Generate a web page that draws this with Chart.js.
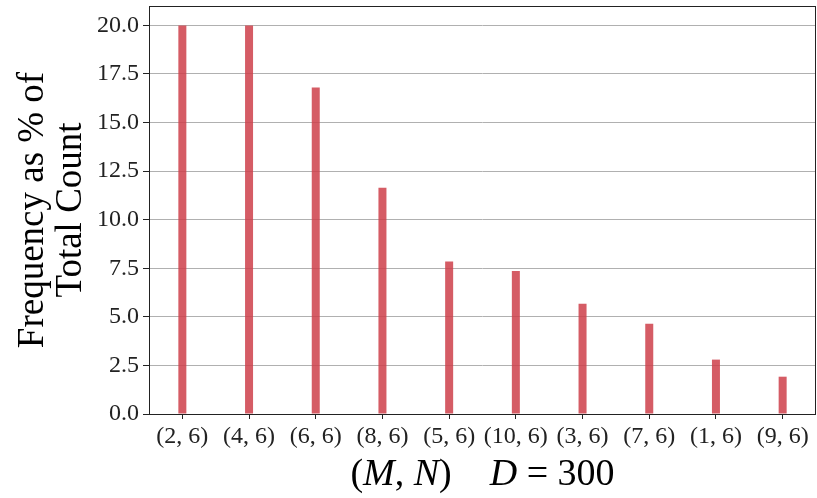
<!DOCTYPE html>
<html>
<head>
<meta charset="utf-8">
<script src="https://cdn.jsdelivr.net/npm/chart.js@4/dist/chart.umd.min.js"></script>
<style>
  html,body{margin:0;padding:0;background:#fff;}
  #wrap{width:817px;height:498px;}
</style>
</head>
<body>
<div id="wrap"><canvas id="freqChart" width="817" height="498"></canvas></div>
<script>
// (M, N) pairs sorted by frequency, D = 300
const pairs = ['(2, 6)','(4, 6)','(6, 6)','(8, 6)','(5, 6)','(10, 6)','(3, 6)','(7, 6)','(1, 6)','(9, 6)'];
const freqPct = [20.0, 20.0, 16.8, 11.65, 7.85, 7.36, 5.67, 4.64, 2.8, 1.92];
const yTicks = [0, 2.5, 5, 7.5, 10, 12.5, 15, 17.5, 20];

const serif = "'Liberation Serif', 'DejaVu Serif', serif";

// black frame round the plot area + mixed italic x title
const framePlugin = {
  id: 'frame',
  afterDraw(c){
    const {ctx, chartArea:a} = c;
    ctx.save();
    ctx.strokeStyle = '#222';
    ctx.lineWidth = 1;
    ctx.strokeRect(a.left+0.5, a.top+0.5, a.right-a.left-1, a.bottom-a.top);
    // x axis title: (M, N)    D = 300
    const parts = [['(',0],['M',1],[', ',0],['N',1],[')',0],['    ',0],['D',1],[' = 300',0]];
    const size = 38;
    const fnt = it => (it ? 'italic ' : '') + size + 'px ' + serif;
    let total = 0;
    parts.forEach(p => { ctx.font = fnt(p[1]); total += ctx.measureText(p[0]).width; });
    let x = (a.left + a.right)/2 - total/2;
    ctx.fillStyle = '#000';
    ctx.textBaseline = 'alphabetic';
    parts.forEach(p => { ctx.font = fnt(p[1]); ctx.fillText(p[0], x, 485); x += ctx.measureText(p[0]).width; });
    ctx.restore();
  }
};

const ctx = document.getElementById('freqChart').getContext('2d');
new Chart(ctx, {
  type: 'bar',
  data: {
    labels: pairs,
    datasets: [{
      data: freqPct,
      backgroundColor: 'rgba(206,64,74,0.85)',
      borderWidth: 0,
      barPercentage: 0.12,
      categoryPercentage: 1.0
    }]
  },
  options: {
    responsive: false,
    animation: false,
    layout: { padding: { top: 6, right: 1, left: 0, bottom: 0 } },
    plugins: { legend: { display: false }, tooltip: { enabled: false } },
    scales: {
      x: {
        offset: true,
        afterFit: s => { s.height = 84; s.paddingLeft = 0; s.paddingRight = 0; },
        grid: { offset: false, drawOnChartArea: false, tickLength: 5, color: '#222', drawTicks: true },
        border: { display: false },
        ticks: { color: '#222', padding: 3, maxRotation: 0, autoSkip: false, font: { family: serif, size: 24 } }
      },
      y: {
        min: 0,
        max: 21,
        afterFit: s => { s.width = 149; s.paddingTop = 0; s.paddingBottom = 0; },
        afterBuildTicks: s => { s.ticks = yTicks.map(v => ({ value: v })); },
        grid: { color: '#b0b0b0', lineWidth: 1, tickLength: 6, tickColor: '#222' },
        border: { display: false },
        ticks: { color: '#222', padding: 4, font: { family: serif, size: 24 }, callback: v => Number(v).toFixed(1) },
        title: {
          display: true,
          text: ['Frequency as % of', 'Total Count'],
          color: '#000',
          padding: { top: 14, bottom: 0 },
          font: { family: serif, size: 37, lineHeight: 1.04 }
        }
      }
    }
  },
  plugins: [framePlugin]
});
</script>
</body>
</html>
